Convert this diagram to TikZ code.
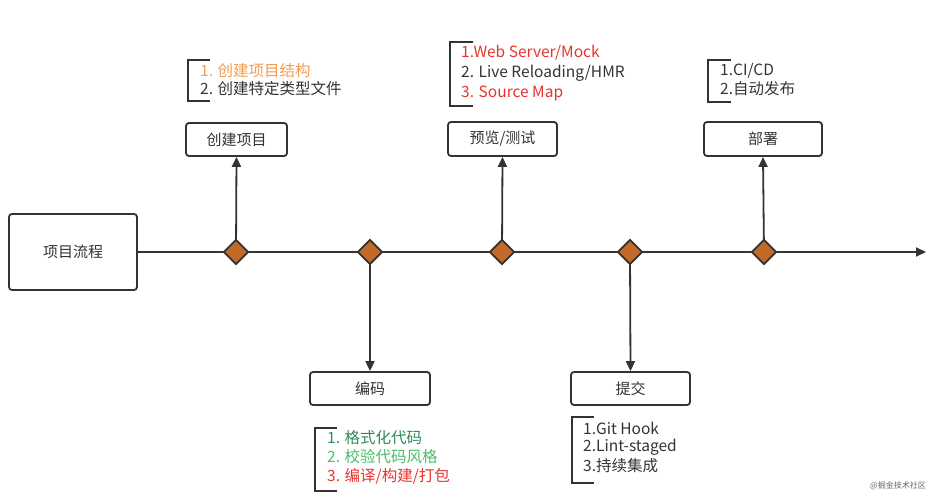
\documentclass[tikz,border=0pt]{standalone}
\usepackage{fontspec}
\setmainfont{Noto Sans CJK SC}
\usetikzlibrary{shapes.geometric,arrows.meta}
\definecolor{ink}{HTML}{333333}
\definecolor{dia}{HTML}{C46A29}
\definecolor{orn}{HTML}{F29B55}
\definecolor{red1}{HTML}{E8332D}
\definecolor{grn1}{HTML}{2E8B57}
\definecolor{grn2}{HTML}{4CBB6C}
\tikzset{
  box/.style={draw=ink, line width=1.8bp, rounded corners=3bp, fill=white, inner sep=0pt, font=\fontsize{15bp}{17bp}\selectfont, text=ink},
  dmd/.style={diamond, draw=ink, line width=1.8bp, fill=dia, minimum width=25bp, minimum height=25bp, inner sep=0pt},
  conn/.style={draw=ink, line width=1.8bp},
  arr/.style={conn, -{Triangle[length=10bp,width=9bp]}},
  brk/.style={draw=ink, line width=2bp},
  lst/.style={anchor=west, inner sep=0pt, font=\fontsize{15.5bp}{17bp}\selectfont, text=ink},
}
\begin{document}
\begin{tikzpicture}[x=1bp,y=-1bp]
\useasboundingbox (0,0) rectangle (950,499);
% main box
\node[box, minimum width=128bp, minimum height=76bp] (main) at (73,252) {项目流程};
\coordinate (end) at (926,252);
\draw[arr] (main.east) -- (end);
% boxes
\node[box, minimum width=101bp, minimum height=33bp] (b1) at (236.5,139.5) {创建项目};
\node[box, minimum width=109bp, minimum height=34bp] (b3) at (502.5,139) {预览/测试};
\node[box, minimum width=118bp, minimum height=34bp] (b5) at (763,139) {部署};
\node[box, minimum width=120bp, minimum height=33bp] (b2) at (370,388.5) {编码};
\node[box, minimum width=119bp, minimum height=33bp] (b4) at (630.5,388.5) {提交};
% diamonds (positions)
\coordinate (c1) at (236,252);
\coordinate (c2) at (370,252);
\coordinate (c3) at (502,252);
\coordinate (c4) at (630,252);
\coordinate (c5) at (764,252);
% vertical arrows
\draw[arr] (c1) -- (b1.south);
\draw[arr] (c3) -- (b3.south);
\draw[arr] (c5) -- (b5.south);
\draw[arr] (c2) -- (b2.north);
\draw[arr] (c4) -- (b4.north);
% diamonds on top
\node[dmd] (d1) at (c1) {};
\node[dmd] (d2) at (c2) {};
\node[dmd] (d3) at (c3) {};
\node[dmd] (d4) at (c4) {};
\node[dmd] (d5) at (c5) {};
% brackets
\draw[brk] (210,60) -- (188,60) -- (188,101) -- (210,101);
\draw[brk] (473,42) -- (450,42) -- (450,106) -- (473,106);
\draw[brk] (731,60) -- (708,60) -- (708,102) -- (731,102);
\draw[brk] (337,428) -- (315,428) -- (315,491) -- (337,491);
\draw[brk] (594,417) -- (572,417) -- (572,483) -- (594,483);
% lists
\node[lst, text=orn] (t11) at (200,71) {1. 创建项目结构};
\node[lst] (t12) at (200,89) {2. 创建特定类型文件};
\node[lst, text=red1] (t31) at (461,53) {1.Web Server/Mock};
\node[lst] (t32) at (461,73) {2. Live Reloading/HMR};
\node[lst, text=red1] (t33) at (461,93) {3. Source Map};
\node[lst] (t51) at (720,71) {1.CI/CD};
\node[lst] (t52) at (720,89) {2.自动发布};
\node[lst, text=grn1] (t21) at (327,438) {1. 格式化代码};
\node[lst, text=grn2] (t22) at (327,457) {2. 校验代码风格};
\node[lst, text=red1] (t23) at (327,476) {3. 编译/构建/打包};
\node[lst] (t41) at (583,428) {1.Git Hook};
\node[lst] (t42) at (583,447) {2.Lint-staged};
\node[lst] (t43) at (583,466) {3.持续集成};
% watermark
\node[anchor=west, inner sep=0pt, font=\fontsize{8bp}{9bp}\selectfont, text=black!60] (wm) at (870,486) {@掘金技术社区};
\end{tikzpicture}
\end{document}
